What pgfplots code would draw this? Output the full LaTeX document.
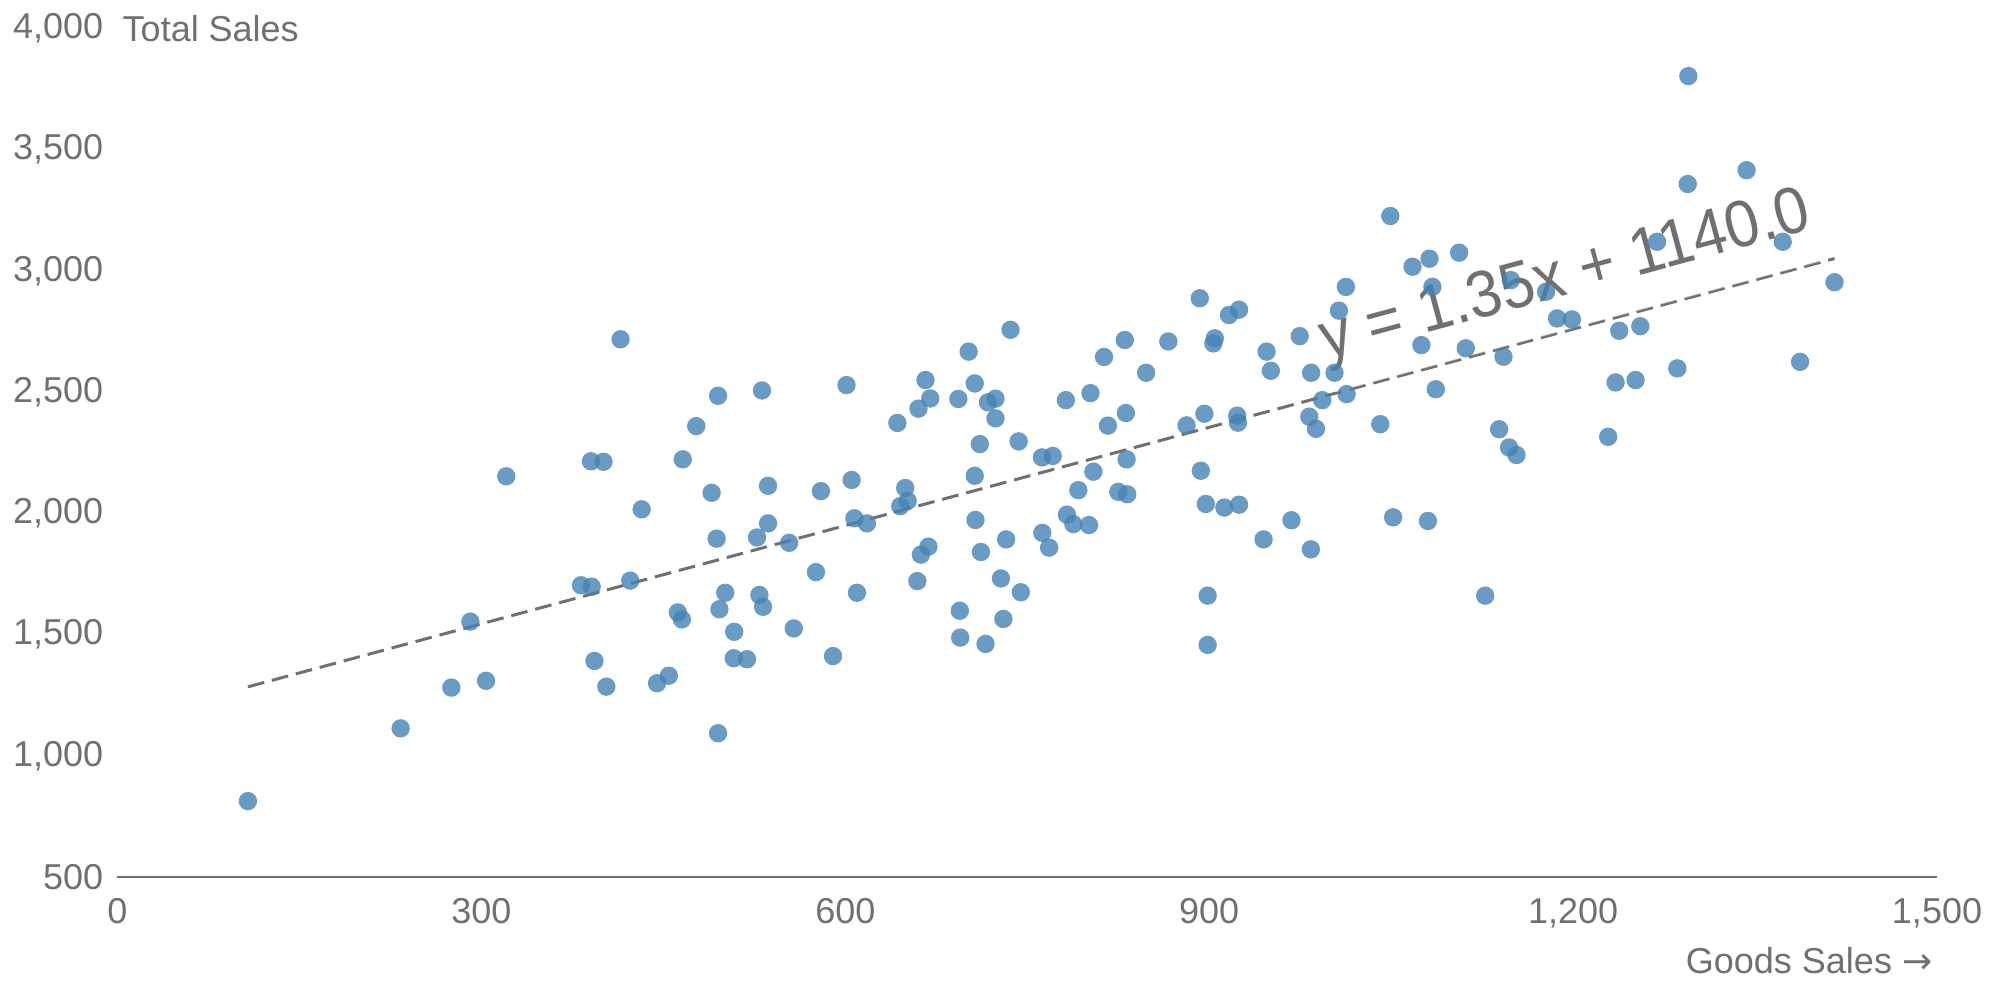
\documentclass[border=0pt]{standalone}
\usepackage{pgfplots}
\usepackage{pgfplotstable}
\pgfplotsset{compat=1.18}
\usepackage{fontspec}
\setmainfont{Liberation Sans}
\newfontfamily\symfont{DejaVu Sans}

\definecolor{dotblue}{RGB}{70,130,180}
\definecolor{txtgray}{RGB}{112,112,112}

% Goods Sales (x) vs Total Sales (y)
\pgfplotstableread{
x y
107.5 814
233.4 1114
275.2 1282
303.8 1310
290.9 1554
320.5 2153
390.3 2215
400.6 2213
414.7 2718
382.1 1704
390.9 1698
422.7 1723
393.2 1392
403.0 1286
432.1 2017
444.8 1300
454.5 1331
466.0 2223
477.1 2360
495.1 2485
489.8 2085
493.9 1896
461.9 1592
465.3 1563
501.0 1673
496.2 1605
508.4 1512
508.0 1403
495.1 1094
531.3 2507
601.0 2529
536.3 2114
536.3 1959
527.2 1901
553.7 1879
579.9 2092
605.2 2138
607.5 1980
617.8 1959
575.8 1758
529.2 1664
532.2 1615
557.5 1526
518.9 1399
589.9 1412
609.6 1673
642.9 2373
660.3 2432
666.1 2550
670.0 2474
693.2 2472
701.7 2667
706.7 2536
717.6 2458
723.8 2473
723.8 2392
736.2 2757
710.9 2286
706.7 2155
742.9 2297
649.4 2105
651.4 2052
645.3 2030
668.5 1863
662.3 1830
659.4 1721
707.3 1973
711.8 1841
732.6 1893
728.3 1732
744.7 1675
694.4 1599
730.3 1565
694.7 1488
715.6 1462
762.4 1920
768.0 1859
762.1 2231
771.0 2237
782.7 1995
788.0 1956
800.9 1952
792.1 2096
804.5 2172
781.8 2467
802.1 2496
813.3 2645
830.4 2715
848.0 2580
816.5 2362
831.3 2414
831.9 2223
825.1 2089
832.4 2079
866.3 2709
892.2 2887
916.3 2818
924.6 2840
904.6 2722
903.4 2701
881.3 2363
896.0 2411
923.1 2403
923.7 2374
947.3 2667
950.8 2588
974.6 2731
893.1 2176
897.2 2039
912.5 2024
924.6 2036
898.7 1661
898.7 1458
944.8 1893
967.8 1972
1295.0 3803
1294.5 3358
1343.0 3415
1049.3 3226
1067.6 3017
1081.6 3050
1106.0 3075
1012.7 2934
1006.9 2836
984.0 2580
1003.3 2580
993.2 2467
1013.3 2492
982.5 2399
988.0 2349
1041.0 2368
1086.8 2512
1084.0 2934
1074.9 2694
1111.5 2681
1142.6 2646
1148.7 2962
1177.7 2914
1186.8 2804
1199.0 2800
1238.0 2753
1255.4 2772
1269.2 3120
1372.8 3120
1415.5 2953
1387.1 2625
1285.9 2598
1235.0 2540
1251.5 2550
1228.9 2316
1139.0 2347
1147.2 2272
1153.3 2241
983.8 1852
1051.6 1984
1080.3 1969
1127.5 1661
}\salesdata

\begin{document}
\begin{tikzpicture}
\begin{axis}[
    at={(0,0)}, anchor=south west,
    scale only axis,
    width=454.875pt, height=212.25pt,
    xmin=0, xmax=1500, ymin=500, ymax=4000,
    clip=false,
    axis lines*=left,
    x axis line style={draw=txtgray, line width=0.5pt},
    y axis line style={draw=none},
    major tick length=0pt,
    xtick={0,300,600,900,1200,1500},
    ytick={500,1000,...,4000},
    scaled ticks=false,
    /pgf/number format/.cd, 1000 sep={,}, assume math mode=true,
    /pgfplots/.cd,
    tick label style={font=\fontsize{9}{11}\selectfont, text=txtgray, inner sep=0pt},
    xticklabel style={anchor=north, yshift=-5pt},
    yticklabel style={anchor=east, xshift=-3.4pt},
]
    \addplot[only marks, mark=*, mark size=2.3pt, color=dotblue,
        mark options={draw opacity=0, fill=dotblue, fill opacity=0.8}]
        table[x=x, y=y] {\salesdata};

    \addplot[txtgray, line width=0.75pt, dash pattern=on 4.2pt off 2pt]
        coordinates {(107.5,1285.1) (1415.5,3050.9)};

    % equation of the trend line, set along it
    \node[anchor=south, rotate=15.1, xscale=0.93, inner xsep=0pt, inner ysep=5pt,
        fill=white, fill opacity=0.45, text opacity=1, text=txtgray,
        font=\fontsize{16.5}{20}\selectfont] at (axis cs:1205,2766.75) {y = 1.35x + 1140.0};

    \node[anchor=west, inner sep=0pt, xshift=1.1pt, text=txtgray,
        font=\fontsize{9}{11}\selectfont] at (axis cs:0,4000) {Total Sales};
    \node[anchor=base east, inner sep=0pt, xshift=-1pt, yshift=-24pt, text=txtgray,
        font=\fontsize{9}{11}\selectfont] at (axis cs:1500,500) {Goods Sales {\symfont →}};
\end{axis}
\pgfresetboundingbox
\path (-29.375pt,-31.175pt) rectangle (470.125pt,219.325pt);
\end{tikzpicture}
\end{document}
